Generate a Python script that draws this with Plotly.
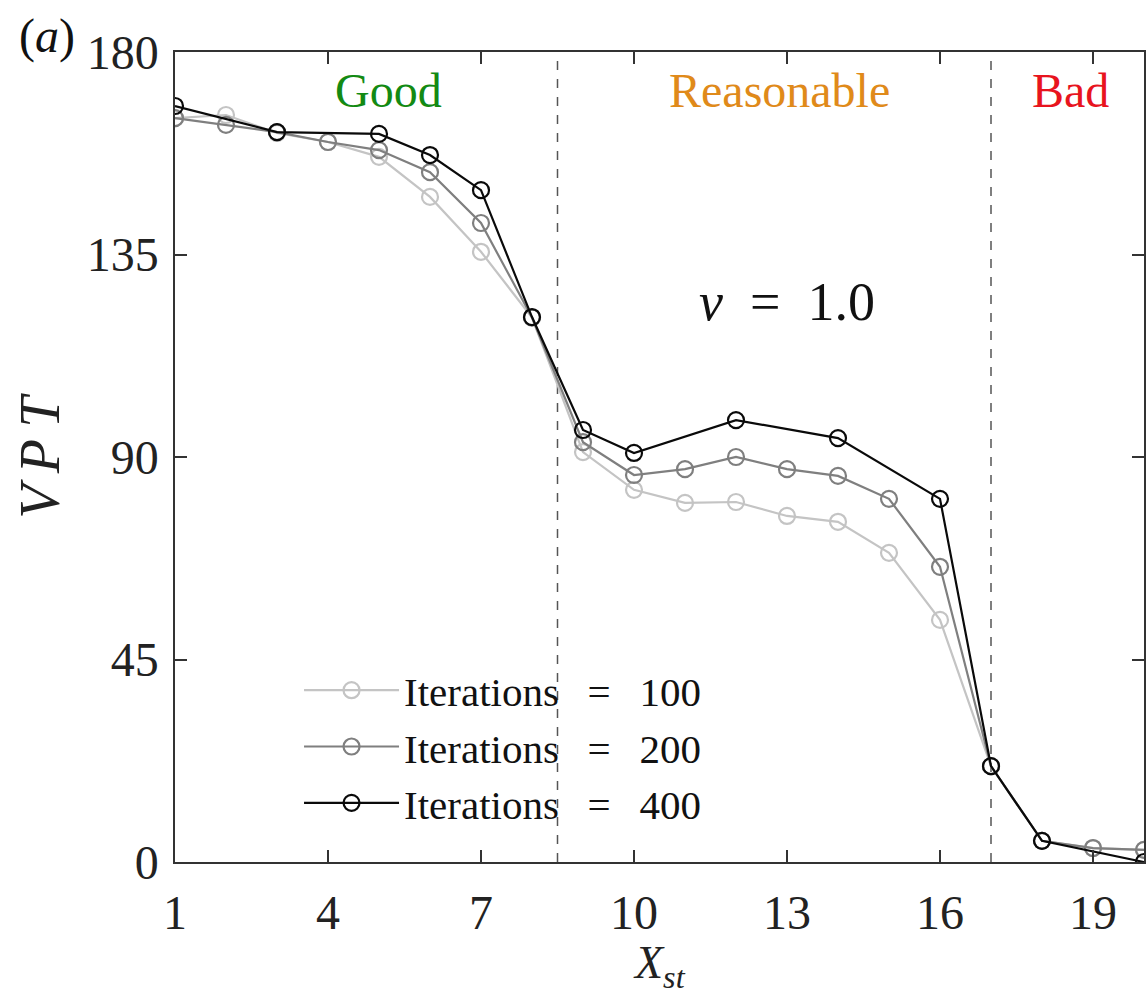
import plotly.graph_objects as go

# ---- data ----
x_100 = [1, 2, 3, 4, 5, 6, 7, 8, 9, 10, 11, 12, 13, 14, 15, 16, 17, 18, 19, 20]
vpt_100 = [165.3, 166.0, 162.0, 160.0, 156.7, 147.8, 135.6, 121.0, 91.1, 82.7, 79.8, 80.0, 76.9, 75.6, 68.7, 53.8, 21.3, 4.7, 3.1, 2.7]

x_200 = [1, 2, 3, 4, 5, 6, 7, 8, 9, 10, 11, 12, 13, 14, 15, 16, 17, 18, 19, 20]
vpt_200 = [165.3, 163.8, 162.2, 160.0, 158.2, 153.3, 142.0, 121.0, 93.3, 86.0, 87.3, 90.0, 87.3, 85.8, 80.7, 65.6, 21.3, 4.7, 3.1, 2.7]

x_400 = [1, 3, 5, 6, 7, 8, 9, 10, 12, 14, 16, 17, 18, 20]
vpt_400 = [168.0, 162.2, 161.8, 157.1, 149.3, 121.1, 96.0, 90.9, 98.2, 94.2, 80.7, 21.3, 4.7, 0.0]

series_names = ["Iterations\u2002\u2009=\u2002\u2009100", "Iterations\u2002\u2009=\u2002\u2009200",
                "Iterations\u2002\u2009=\u2002\u2009400"]
series_colors = ["#c4c4c4", "#7f7f7f", "#0a0a0a"]

region_bounds = [8.5, 17]
region_labels = ["Good", "Reasonable", "Bad"]
region_label_x = [5.18, 12.86, 18.55]
region_colors = ["#138a13", "#e08a1a", "#e8141e"]

x_ticks = [1, 4, 7, 10, 13, 16, 19]
y_ticks = [0, 45, 90, 135, 180]

FONT = "Liberation Serif"

fig = go.Figure()
for i, (xs, ys) in enumerate([(x_100, vpt_100), (x_200, vpt_200), (x_400, vpt_400)]):
    fig.add_trace(go.Scatter(
        x=xs, y=ys, mode="lines+markers", name=series_names[i],
        legendgroup=str(i),
        line=dict(color=series_colors[i], width=2.2),
        marker=dict(symbol="circle-open", size=16, color=series_colors[i],
                    line=dict(width=2.2, color=series_colors[i])),
    ))

for b in region_bounds:
    fig.add_shape(type="line", x0=b, x1=b, y0=0, y1=180, xref="x", yref="y",
                  line=dict(color="#555555", width=1.5, dash="dash"), layer="below")

for lab, lx, col in zip(region_labels, region_label_x, region_colors):
    fig.add_annotation(x=lx, y=171.5, xref="x", yref="y", text=lab, showarrow=False,
                       font=dict(family=FONT, size=48, color=col))

fig.add_annotation(x=13.0, y=124.4, xref="x", yref="y", text="<i>ν</i>\u2002=\u20021.0", showarrow=False,
                   font=dict(family=FONT, size=54, color="#111111"))

fig.add_annotation(x=-0.132, y=1.0198, xref="paper", yref="paper", text="(<i>a</i>)", showarrow=False,
                   xanchor="center", yanchor="middle",
                   font=dict(family=FONT, size=48, color="#111111"))

fig.add_annotation(x=-0.139, y=0.502, xref="paper", yref="paper", text="<i>V\u2009P\u2009T</i>",
                   showarrow=False, textangle=-90, xanchor="center", yanchor="middle",
                   font=dict(family=FONT, size=56, color="#222222"))

fig.add_annotation(x=0.5005, y=-0.128, xref="paper", yref="paper",
                   text="<i>X</i><sub><i>st</i></sub>", showarrow=False,
                   xanchor="center", yanchor="middle",
                   font=dict(family=FONT, size=46, color="#222222"))

fig.update_layout(
    width=1148, height=995,
    margin=dict(l=175, r=4, t=52, b=133),
    paper_bgcolor="white", plot_bgcolor="white",
    font=dict(family=FONT, size=48, color="#222222"),
    showlegend=True,
    legend=dict(x=0.128, y=0.253, xanchor="left", yanchor="top",
                bgcolor="rgba(0,0,0,0)", borderwidth=0,
                font=dict(family=FONT, size=41, color="#111111"),
                traceorder="grouped", tracegroupgap=0, itemwidth=95),
    xaxis=dict(range=[1, 20], tickmode="array", tickvals=x_ticks,
               ticks="inside", ticklen=12, tickwidth=1.5, tickcolor="#333333",
               showline=True, linecolor="#333333", linewidth=1.5, mirror="ticks",
               showgrid=False, zeroline=False, automargin=False,
               ticklabelstandoff=8,
               tickfont=dict(family=FONT, size=48, color="#222222")),
    yaxis=dict(range=[0, 180], tickmode="array", tickvals=y_ticks,
               ticks="inside", ticklen=12, tickwidth=1.5, tickcolor="#333333",
               showline=True, linecolor="#333333", linewidth=1.5, mirror="ticks",
               showgrid=False, zeroline=False, automargin=False,
               ticklabelstandoff=5,
               tickfont=dict(family=FONT, size=48, color="#222222")),
)

fig.write_html("out.html")
